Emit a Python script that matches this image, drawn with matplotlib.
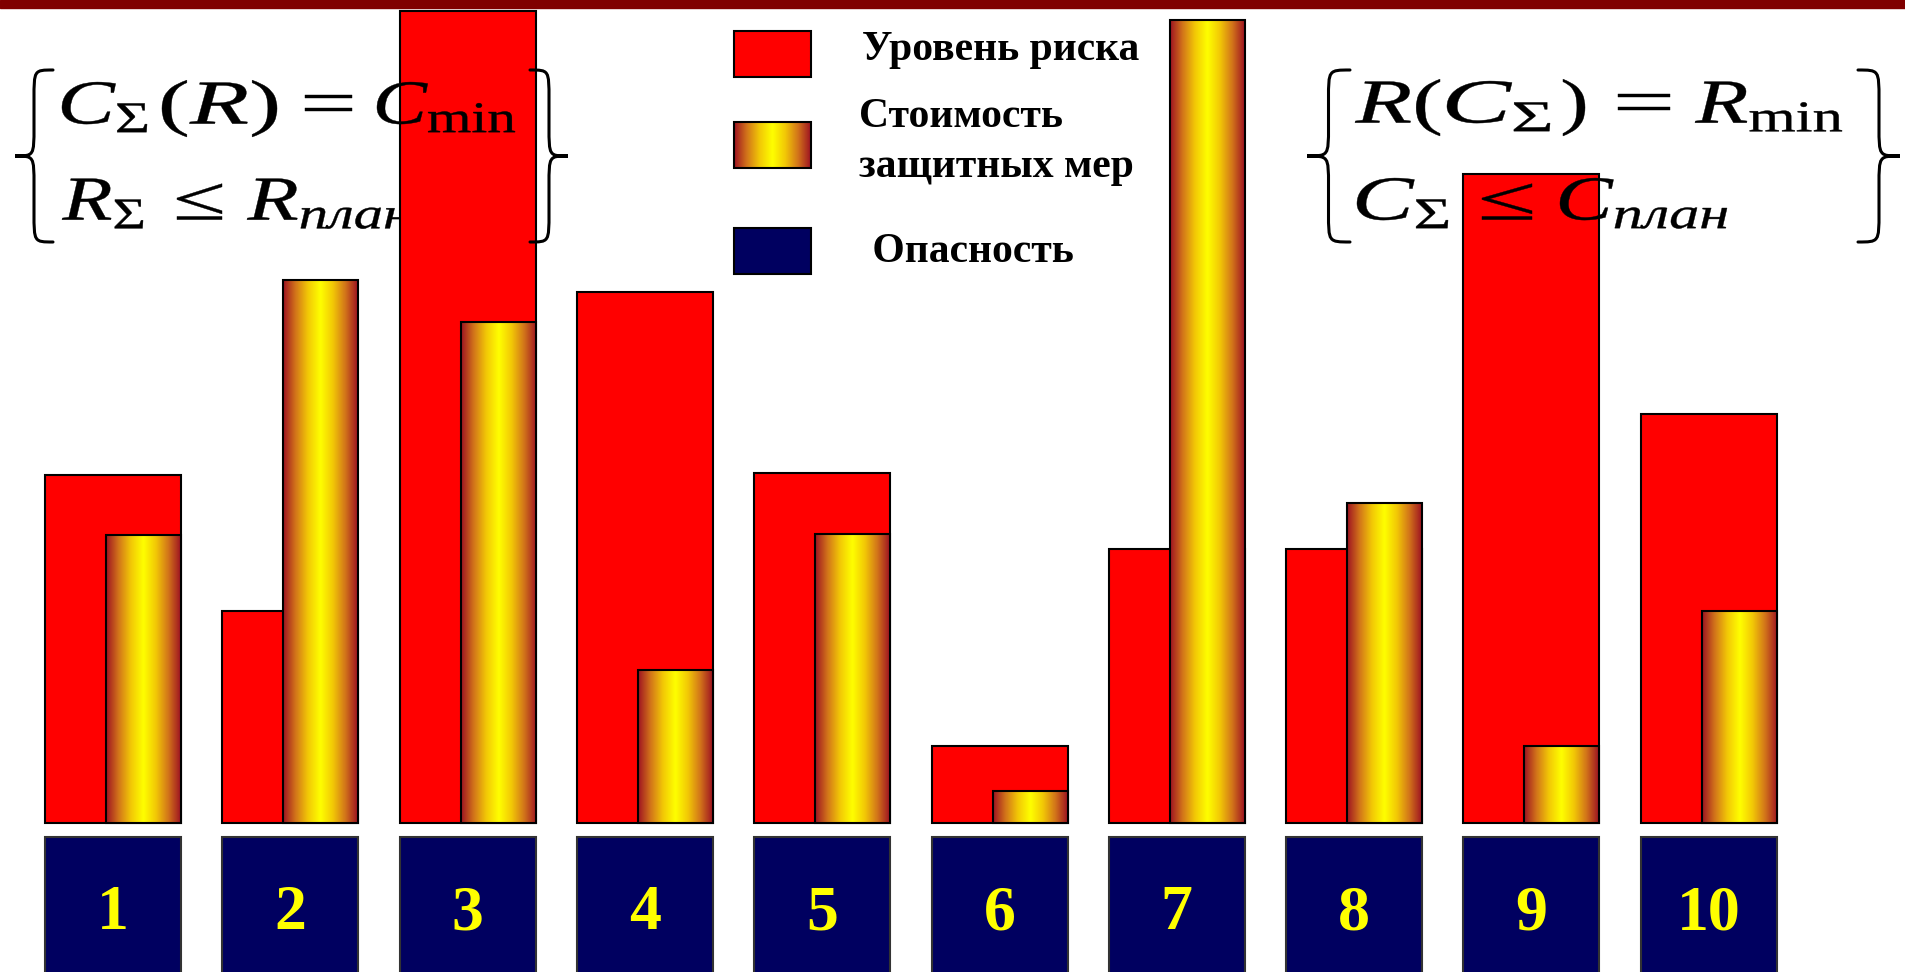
import numpy as np
import matplotlib.pyplot as plt
from matplotlib.colors import LinearSegmentedColormap
from matplotlib.patches import Rectangle, PathPatch
from matplotlib.path import Path
from matplotlib.textpath import TextPath
from matplotlib.transforms import Affine2D
from matplotlib.font_manager import FontProperties

plt.rcParams['font.family'] = ['Liberation Serif', 'DejaVu Serif']
plt.rcParams['mathtext.fontset'] = 'custom'
plt.rcParams['mathtext.rm'] = 'Liberation Serif'
plt.rcParams['mathtext.it'] = 'Liberation Serif:italic'
plt.rcParams['mathtext.bf'] = 'Liberation Serif:bold'

# Данные
hazards = ['1', '2', '3', '4', '5', '6', '7', '8', '9', '10']
risk_level = [42.7, 26.1, 99.8, 65.2, 43.0, 9.4, 33.6, 33.7, 79.7, 50.3]
protection_cost = [35.4, 66.7, 61.5, 18.8, 35.5, 3.9, 98.7, 39.3, 9.4, 26.1]
legend_labels = ['Уровень риска', 'Стоимость\nзащитных мер', ' Опасность']

# Цвета
RED = '#FF0000'
NAVY = '#000060'
fire = LinearSegmentedColormap.from_list(
    'fire', ['#9E1222', '#D2741A', '#F2C806', '#FFFF00',
             '#F2C806', '#D2741A', '#9E1222'])

W, H = 1905, 972
fig = plt.figure(figsize=(W / 100, H / 100), dpi=100)
ax = fig.add_axes([0, 0, 1, 1])
ax.axis('off')

# раскладка в пикселях
x0_px, step_px = 113, 177.3
base_px, unit_px = 823, 8.14


def px(x, y):
    # пиксели картинки -> координаты данных
    return (x - x0_px) / step_px, (base_px - y) / unit_px


def gradient_fill(x0, x1, y0, y1, z):
    grad = np.linspace(0, 1, 256).reshape(1, -1)
    ax.imshow(grad, cmap=fire, aspect='auto', extent=[x0, x1, y0, y1],
              zorder=z, interpolation='bicubic')


def brace(xt, xb, yt, yb):
    # фигурная скобка, xt - острие, xb - концы (в пикселях)
    xm = (xt + xb) / 2
    ym = (yt + yb) / 2
    k = 0.17 * (yb - yt)
    pts = [(xb, yt), (xm, yt), (xm, yt), (xm, yt + k),
           (xm, ym - k),
           (xm, ym), (xm, ym), (xt, ym),
           (xm, ym), (xm, ym), (xm, ym + k),
           (xm, yb - k),
           (xm, yb), (xm, yb), (xb, yb)]
    codes = [Path.MOVETO] + [Path.CURVE4] * 3 + [Path.LINETO] + \
            [Path.CURVE4] * 6 + [Path.LINETO] + [Path.CURVE4] * 3
    verts = [px(a, b) for a, b in pts]
    ax.add_patch(PathPatch(Path(verts, codes), fill=False, lw=2.2,
                           color='black', zorder=6, clip_on=False,
                           capstyle='round'))


EM = 62.6
serif = FontProperties(family='Liberation Serif')


def formula(s, left, right, baseline, z):
    # формула растянута по ширине, как в редакторе формул
    tp = TextPath((0, 0), s, size=EM, prop=serif)
    ext = tp.get_extents()
    sx = (right - left) / ext.width
    tr = Affine2D().translate(-ext.x0, 0).scale(sx, 1) \
        .translate(left, H - baseline)
    ax.add_patch(PathPatch(tp, transform=tr, facecolor='black',
                           edgecolor='black', lw=0.3, zorder=z,
                           clip_on=False))


x = np.arange(len(hazards))
w_red = 136 / step_px
w_gold = 75 / step_px

# уровень риска
ax.bar(x, risk_level, width=w_red, color=RED, edgecolor='black',
       linewidth=1.5, zorder=2)

# стоимость защитных мер (градиент)
gold_bars = ax.bar(x + (w_red - w_gold) / 2, protection_cost, width=w_gold,
                   facecolor='none', edgecolor='black', linewidth=1.5,
                   zorder=4)
for b in gold_bars:
    gradient_fill(b.get_x(), b.get_x() + b.get_width(),
                  b.get_y(), b.get_y() + b.get_height(), 3)

# опасности
box_top = px(0, 837)[1]
box_bot = px(0, 990)[1]
ax.bar(x, [box_top - box_bot] * len(x), bottom=box_bot, width=w_red,
       color=NAVY, edgecolor='#333333', linewidth=1.5, zorder=2)
for xi, lab in zip(x, hazards):
    ax.text(xi, px(0, 914)[1], lab, color='#FFFF00', fontsize=46,
            fontweight='bold', ha='center', va='center', zorder=5)

# легенда
swatch_y = [31, 122, 228]
for i, sy in enumerate(swatch_y):
    sx0, sy0 = px(734, sy + 46)
    sx1, sy1 = px(811, sy)
    if i == 1:
        gradient_fill(sx0, sx1, sy0, sy1, 3)
        ax.add_patch(Rectangle((sx0, sy0), sx1 - sx0, sy1 - sy0,
                               facecolor='none', edgecolor='black', lw=1.5,
                               zorder=4, clip_on=False))
    else:
        ax.add_patch(Rectangle((sx0, sy0), sx1 - sx0, sy1 - sy0,
                               facecolor=[RED, None, NAVY][i],
                               edgecolor='black', lw=1.5, zorder=4,
                               clip_on=False))

text_pos = [(862, 60), (859, 127), (862, 262)]
for (tx, ty), lab in zip(text_pos, legend_labels):
    for j, line in enumerate(lab.split('\n')):
        ax.text(*px(tx, ty + j * 50), line, fontsize=30, fontweight='bold',
                ha='left', va='baseline', zorder=5)

# условия оптимизации (слева)
formula(r'$C_{\Sigma}$', 62, 147, 124, 6)
formula(r'$(R)$', 162, 277, 124, 6)
formula(r'$=$', 305, 352, 124, 6)
formula(r'$C_{\min}$', 377, 515, 124, 6)
formula(r'$R_{\Sigma}$', 62, 143, 220, 1)
formula(r'$\leq$', 177, 222, 220, 1)
formula(r'$R_{\mathit{план}}$', 247, 410, 220, 1)
brace(15, 53, 70, 242)
brace(568, 530, 70, 242)

# условия оптимизации (справа)
formula(r'$R($', 1355, 1440, 123, 6)
formula(r'$C_{\Sigma}$', 1447, 1550, 123, 6)
formula(r'$)$', 1563, 1585, 123, 6)
formula(r'$=$', 1618, 1670, 123, 6)
formula(r'$R_{\min}$', 1695, 1842, 123, 6)
formula(r'$C_{\Sigma}$', 1357, 1448, 220, 6)
formula(r'$\leq$', 1482, 1532, 220, 6)
formula(r'$C_{\mathit{план}}$', 1560, 1727, 220, 6)
brace(1307, 1350, 70, 242)
brace(1900, 1858, 70, 242)

xl = px(0, 0)[0], px(W, 0)[0]
yl = px(0, H)[1], px(0, 0)[1]
ax.set_xlim(*xl)
ax.set_ylim(*yl)

# верхняя полоса
fig.patches.append(Rectangle((0, 1 - 8 / H), 1, 8 / H, transform=fig.transFigure,
                             color='#800000', zorder=10))

fig.savefig('out.png', dpi=100)
